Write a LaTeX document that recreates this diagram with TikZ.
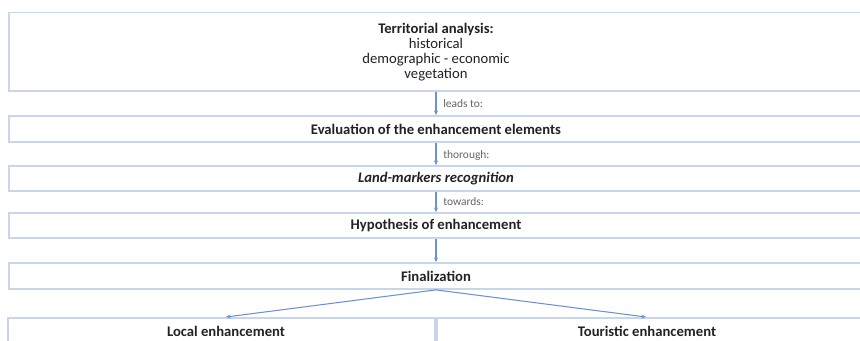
\documentclass[tikz,border=0pt]{standalone}
\usepackage{fontspec}
\setmainfont{Carlito}
\usetikzlibrary{arrows.meta}
\definecolor{boxline}{HTML}{C9D6E8}
\definecolor{arrowblue}{HTML}{6F93C9}
\definecolor{txt}{HTML}{222222}
\definecolor{lbl}{HTML}{666666}
\begin{document}
\begin{tikzpicture}[x=0.75pt,y=-0.75pt,
  box/.style={draw=boxline,line width=1.3pt,minimum width=640.5pt,inner sep=0pt,text=txt,font=\fontsize{11}{11.25}\selectfont,align=center},
  half/.style={draw=boxline,line width=1.3pt,minimum width=320.25pt,minimum height=19.5pt,inner sep=0pt},
  conn/.style={draw=arrowblue,line width=0.8pt,-{Stealth[length=3.5pt,width=3pt]}},
  lab/.style={text=lbl,font=\fontsize{8.6}{10}\selectfont,anchor=west,inner sep=0pt}]
\useasboundingbox (0,0) rectangle (860,340);
\begin{scope}
\clip (0,0) rectangle (860,340);
\node[box,minimum height=58.9pt] (t) at (436,51.75)
  {\textbf{Territorial analysis:}\\historical\\demographic - economic\\vegetation};
\node[box,minimum height=19.5pt,font=\fontsize{11}{12}\selectfont\bfseries] (e) at (436,129) {Evaluation of the enhancement elements};
\node[box,minimum height=18.75pt,font=\fontsize{11}{12}\selectfont\bfseries\itshape] (l) at (436,178.5) {Land-markers recognition};
\node[box,minimum height=18.75pt,font=\fontsize{11}{12}\selectfont\bfseries] (h) at (436,225.5) {Hypothesis of enhancement};
\node[box,minimum height=19.5pt,font=\fontsize{11}{12}\selectfont\bfseries] (f) at (436,276) {Finalization};
\node[half,anchor=north east] (lo) at (436,317) {};
\node[half,anchor=north west] (to) at (436,317) {};
\node[text=txt,font=\fontsize{11}{12}\selectfont\bfseries] (lot) at (226,331) {Local enhancement};
\node[text=txt,font=\fontsize{11}{12}\selectfont\bfseries] (tot) at (647,331) {Touristic enhancement};
\end{scope}
\draw[conn] (t.south) -- (e.north);
\draw[conn] (e.south) -- (l.north);
\draw[conn] (l.south) -- (h.north);
\draw[conn] (h.south) -- (f.north);
\coordinate (la) at (226,317);
\coordinate (ra) at (646,317);
\draw[conn] (f.south) -- (la);
\draw[conn] (f.south) -- (ra);
\node[lab] (l1) at (443,104) {leads to:};
\node[lab] (l2) at (443,155) {thorough:};
\node[lab] (l3) at (443,202) {towards:};
\end{tikzpicture}
\end{document}
